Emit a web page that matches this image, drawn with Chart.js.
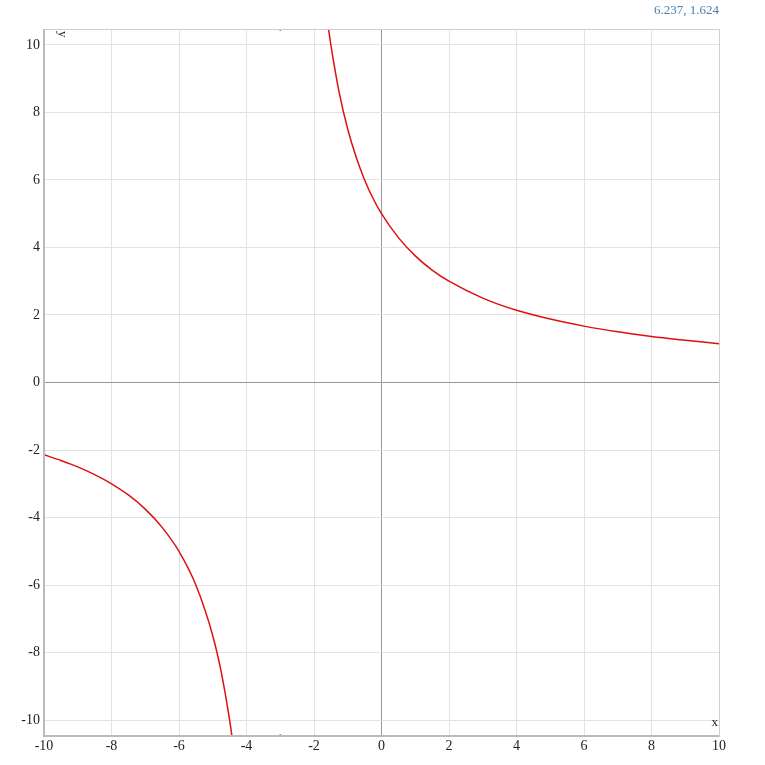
<!DOCTYPE html>
<html>
<head>
<meta charset="utf-8">
<script src="https://cdn.jsdelivr.net/npm/chart.js@4/dist/chart.umd.min.js"></script>
<style>
  body { margin: 0; background: #fff; }
  #wrap { position: relative; width: 765px; height: 765px; }
  #coords {
    position: absolute; right: 46px; top: 2px;
    font: 13px "Liberation Serif", serif; color: #4a7fae;
  }
</style>
</head>
<body>
<div id="wrap">
  <div id="coords">6.237, 1.624</div>
  <canvas id="plot" width="765" height="765"></canvas>
</div>
<script>
// values
const leftX  = [-10, -9.5, -9, -8.5, -8, -7.5, -7, -6.5, -6, -5.5, -5, -4.75, -4.5, -4.4];
const leftY  = [-2.14, -2.31, -2.5, -2.73, -3.0, -3.33, -3.75, -4.29, -5.0, -6.0, -7.5, -8.57, -10.0, -10.7];
const rightX = [-1.6, -1.5, -1.25, -1, -0.75, -0.5, -0.25, 0, 0.5, 1, 1.5, 2, 3, 4, 5, 6, 7, 8, 9, 10];
const rightY = [10.7, 10.0, 8.57, 7.5, 6.67, 6.0, 5.45, 5.0, 4.29, 3.75, 3.33, 3.0, 2.5, 2.14, 1.88, 1.67, 1.5, 1.36, 1.25, 1.15];
const markX  = [-3, -3];
const markY  = [10.45, -10.45];
const xTicks = [-10, -8, -6, -4, -2, 0, 2, 4, 6, 8, 10];
const yTicks = [-10, -8, -6, -4, -2, 0, 2, 4, 6, 8, 10];

const pts = (xs, ys) => xs.map((x, i) => ({ x: x, y: ys[i] }));

const gridColor = ctx => ctx.tick && ctx.tick.value === 0 ? '#999' : '#e2e2e2';

const framePlugin = {
  id: 'frame',
  afterDraw(chart) {
    const { ctx, chartArea: a } = chart;
    ctx.save();
    ctx.strokeStyle = '#cfcfcf';
    ctx.lineWidth = 1;
    ctx.strokeRect(a.left + 0.5, a.top + 0.5, a.right - a.left, a.bottom - a.top);
    ctx.strokeStyle = '#bbb';
    ctx.lineWidth = 2;
    ctx.beginPath();
    ctx.moveTo(a.left, a.top);
    ctx.lineTo(a.left, a.bottom);
    ctx.lineTo(a.right, a.bottom);
    ctx.stroke();
    ctx.fillStyle = '#222';
    ctx.font = '13px "Liberation Serif", serif';
    ctx.textAlign = 'right';
    ctx.textBaseline = 'bottom';
    ctx.fillText('x', a.right - 1, a.bottom - 7);
    ctx.translate(a.left + 18, a.top + 2);
    ctx.rotate(Math.PI / 2);
    ctx.textAlign = 'left';
    ctx.textBaseline = 'middle';
    ctx.fillText('y', 0, 0);
    ctx.restore();
  }
};

new Chart(document.getElementById('plot'), {
  type: 'scatter',
  data: {
    datasets: [
      { data: pts(leftX, leftY), showLine: true, borderColor: '#dd1111', borderWidth: 1.5,
        pointRadius: 0, cubicInterpolationMode: 'monotone' },
      { data: pts(rightX, rightY), showLine: true, borderColor: '#dd1111', borderWidth: 1.5,
        pointRadius: 0, cubicInterpolationMode: 'monotone' },
      { data: pts(markX, markY), showLine: false, pointRadius: 1, pointBorderWidth: 0,
        backgroundColor: '#dd1111' }
    ]
  },
  options: {
    responsive: false,
    animation: false,
    layout: { padding: { left: 0, top: 29, right: 46, bottom: 0 } },
    plugins: { legend: { display: false }, tooltip: { enabled: false } },
    scales: {
      x: {
        type: 'linear', min: -10, max: 10,
        afterBuildTicks: s => { s.ticks = xTicks.map(v => ({ value: v })); },
        afterFit: s => { s.height = 29; },
        grid: { color: gridColor, drawTicks: false },
        border: { display: false },
        ticks: { color: '#222', padding: 2, maxRotation: 0,
                 font: { family: 'Liberation Serif', size: 14 } }
      },
      y: {
        type: 'linear', min: -10.47, max: 10.47,
        afterBuildTicks: s => { s.ticks = yTicks.map(v => ({ value: v })); },
        afterFit: s => { s.width = 44; },
        grid: { color: gridColor, drawTicks: false },
        border: { display: false },
        ticks: { color: '#222', padding: 4,
                 font: { family: 'Liberation Serif', size: 14 } }
      }
    }
  },
  plugins: [framePlugin]
});
</script>
</body>
</html>
